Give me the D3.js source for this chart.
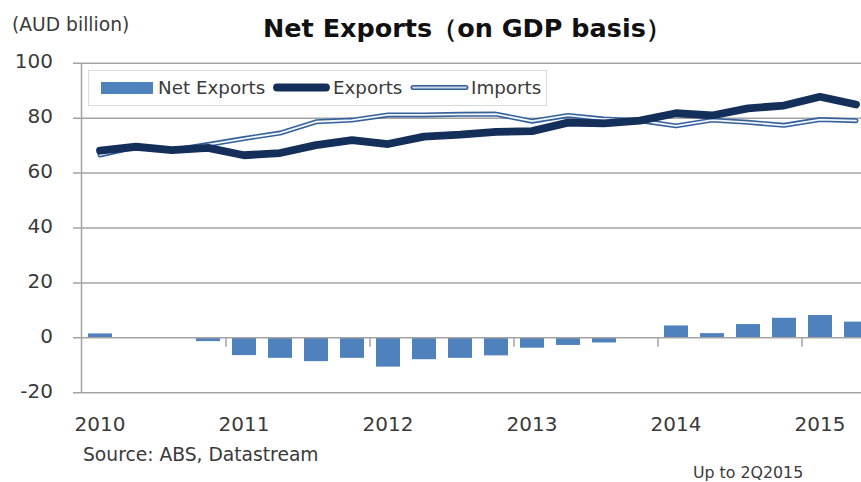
<!DOCTYPE html>
<html>
<head>
<meta charset="utf-8">
<script src="https://cdn.jsdelivr.net/npm/d3@7"></script>
<style>
  html, body { margin: 0; padding: 0; background: #fff; }
  svg { display: block; font-family: "DejaVu Sans", Verdana, sans-serif; }
</style>
</head>
<body>
<svg id="chart" width="861" height="482"></svg>
<script>
// Quarterly series, 1Q2010 – 2Q2015 (AUD billion)
const quarters = [
  "2010Q1","2010Q2","2010Q3","2010Q4",
  "2011Q1","2011Q2","2011Q3","2011Q4",
  "2012Q1","2012Q2","2012Q3","2012Q4",
  "2013Q1","2013Q2","2013Q3","2013Q4",
  "2014Q1","2014Q2","2014Q3","2014Q4",
  "2015Q1","2015Q2"
];
const netExports = [1.6, 0.0, 0.0, -1.2, -6.3, -7.3, -8.5, -7.3, -10.5, -7.8, -7.3, -6.4,
                    -3.6, -2.6, -1.7, 0.0, 4.5, 1.7, 5.0, 7.3, 8.3, 5.9];
const exportsVals = [68.2, 69.6, 68.4, 69.2, 66.5, 67.3, 70.2, 72.0, 70.6, 73.3, 74.0, 75.0,
                     75.3, 78.4, 78.1, 79.1, 81.8, 81.0, 83.6, 84.6, 87.8, 85.0];
const importsVals = [66.6, 69.5, 68.3, 70.4, 72.6, 74.6, 78.7, 79.3, 81.2, 81.2, 81.4, 81.5,
                     78.9, 81.0, 79.7, 79.1, 77.2, 79.3, 78.5, 77.4, 79.5, 79.1];
const yTicks = [-20, 0, 20, 40, 60, 80, 100];
const yearLabels = ["2010", "2011", "2012", "2013", "2014", "2015"];
const seriesNames = ["Net Exports", "Exports", "Imports"];

const svg = d3.select("#chart");

const plotLeft = 82, plotRight = 874, plotTop = 63.3, plotBottom = 392.7;

const x = d3.scaleBand().domain(quarters).range([plotLeft, plotRight])
  .paddingInner(1 / 3).paddingOuter(1 / 6);
const y = d3.scaleLinear().domain([-20, 100]).range([plotBottom, plotTop]);
const cx = q => x(q) + x.bandwidth() / 2;

const gridColor = "#a3a3a3";
const textColor = "#3a3a3a";

// Horizontal gridlines with short ticks left of the value axis
svg.append("g").selectAll("line").data(yTicks.filter(d => d !== 0)).join("line")
  .attr("x1", plotLeft - 9).attr("x2", 861)
  .attr("y1", d => y(d)).attr("y2", d => y(d))
  .attr("stroke", gridColor).attr("stroke-width", 1.5);

// Value axis labels
svg.append("g").selectAll("text").data(yTicks).join("text")
  .attr("x", 53).attr("y", d => y(d) - 2)
  .attr("text-anchor", "end").attr("dominant-baseline", "central")
  .attr("font-size", 20).attr("fill", textColor)
  .text(d => d);

// Net exports bars
svg.append("g").selectAll("rect").data(quarters).join("rect")
  .attr("x", q => x(q))
  .attr("width", x.bandwidth())
  .attr("y", (q, i) => y(Math.max(0, netExports[i])))
  .attr("height", (q, i) => Math.abs(y(netExports[i]) - y(0)))
  .attr("fill", "#4f81bd");

// Category axis along zero, with year-boundary ticks
svg.append("line")
  .attr("x1", plotLeft - 9).attr("x2", 861)
  .attr("y1", y(0)).attr("y2", y(0))
  .attr("stroke", gridColor).attr("stroke-width", 1.5);
const yearStarts = quarters.filter((q, i) => i > 0 && q.endsWith("Q1"));
svg.append("g").selectAll("line").data(yearStarts).join("line")
  .attr("x1", q => x(q) - x.step() * x.paddingInner() / 2)
  .attr("x2", q => x(q) - x.step() * x.paddingInner() / 2)
  .attr("y1", y(0)).attr("y2", y(0) + 9)
  .attr("stroke", gridColor).attr("stroke-width", 1.5);

// Value axis line
svg.append("line")
  .attr("x1", plotLeft - 0.5).attr("x2", plotLeft - 0.5)
  .attr("y1", plotTop).attr("y2", plotBottom)
  .attr("stroke", gridColor).attr("stroke-width", 1.5);

// Year labels under first quarter of each year
svg.append("g").selectAll("text").data(yearLabels).join("text")
  .attr("x", yr => cx(yr + "Q1"))
  .attr("y", 431)
  .attr("text-anchor", "middle")
  .attr("font-size", 20).attr("fill", textColor)
  .text(d => d);

const line = d3.line().x((d, i) => cx(quarters[i])).y(d => y(d));

// Imports: double-line style (blue outline, pale core)
svg.append("path").datum(importsVals)
  .attr("d", line).attr("fill", "none")
  .attr("stroke", "#34609c").attr("stroke-width", 5)
  .attr("stroke-linejoin", "round").attr("stroke-linecap", "round");
svg.append("path").datum(importsVals)
  .attr("d", line).attr("fill", "none")
  .attr("stroke", "#f2f5fa").attr("stroke-width", 1.8)
  .attr("stroke-linejoin", "round").attr("stroke-linecap", "round");

// Exports: heavy navy line
svg.append("path").datum(exportsVals)
  .attr("d", line).attr("fill", "none")
  .attr("stroke", "#14305a").attr("stroke-width", 7.8)
  .attr("stroke-linejoin", "round").attr("stroke-linecap", "round");

// Legend
const lg = svg.append("g");
lg.append("rect").attr("x", 88.5).attr("y", 70.5).attr("width", 458).attr("height", 35)
  .attr("fill", "#fff").attr("stroke", "#d9d9d9").attr("stroke-width", 1);
lg.append("rect").attr("x", 101).attr("y", 82).attr("width", 52).attr("height", 12)
  .attr("fill", "#4f81bd");
lg.append("line").attr("x1", 277).attr("x2", 326).attr("y1", 87.5).attr("y2", 87.5)
  .attr("stroke", "#14305a").attr("stroke-width", 7.8).attr("stroke-linecap", "round");
lg.append("line").attr("x1", 413).attr("x2", 466).attr("y1", 87.5).attr("y2", 87.5)
  .attr("stroke", "#34609c").attr("stroke-width", 5).attr("stroke-linecap", "round");
lg.append("line").attr("x1", 413).attr("x2", 466).attr("y1", 87.5).attr("y2", 87.5)
  .attr("stroke", "#c9d6e8").attr("stroke-width", 1.8).attr("stroke-linecap", "round");
lg.selectAll("text").data(seriesNames).join("text")
  .attr("x", (d, i) => [158, 333, 471][i]).attr("y", 94)
  .attr("font-size", 18.3).attr("fill", textColor)
  .text(d => d);

// Unit label
svg.append("text").attr("x", 12).attr("y", 31)
  .attr("font-size", 18.7).attr("fill", textColor)
  .text("(AUD billion)");

// Title, fitted to its span
const title = svg.append("text").attr("x", 263).attr("y", 37)
  .attr("font-size", 26).attr("font-weight", "bold").attr("fill", "#111")
  .text("Net Exports（on GDP basis）");
const tw = title.node().getComputedTextLength();
title.attr("font-size", 26 * 409 / tw);

// Footnotes
svg.append("text").attr("x", 83).attr("y", 461)
  .attr("font-size", 18.7).attr("fill", textColor)
  .text("Source: ABS, Datastream");
svg.append("text").attr("x", 693).attr("y", 478)
  .attr("font-size", 15.8).attr("fill", textColor)
  .text("Up to 2Q2015");
</script>
</body>
</html>
